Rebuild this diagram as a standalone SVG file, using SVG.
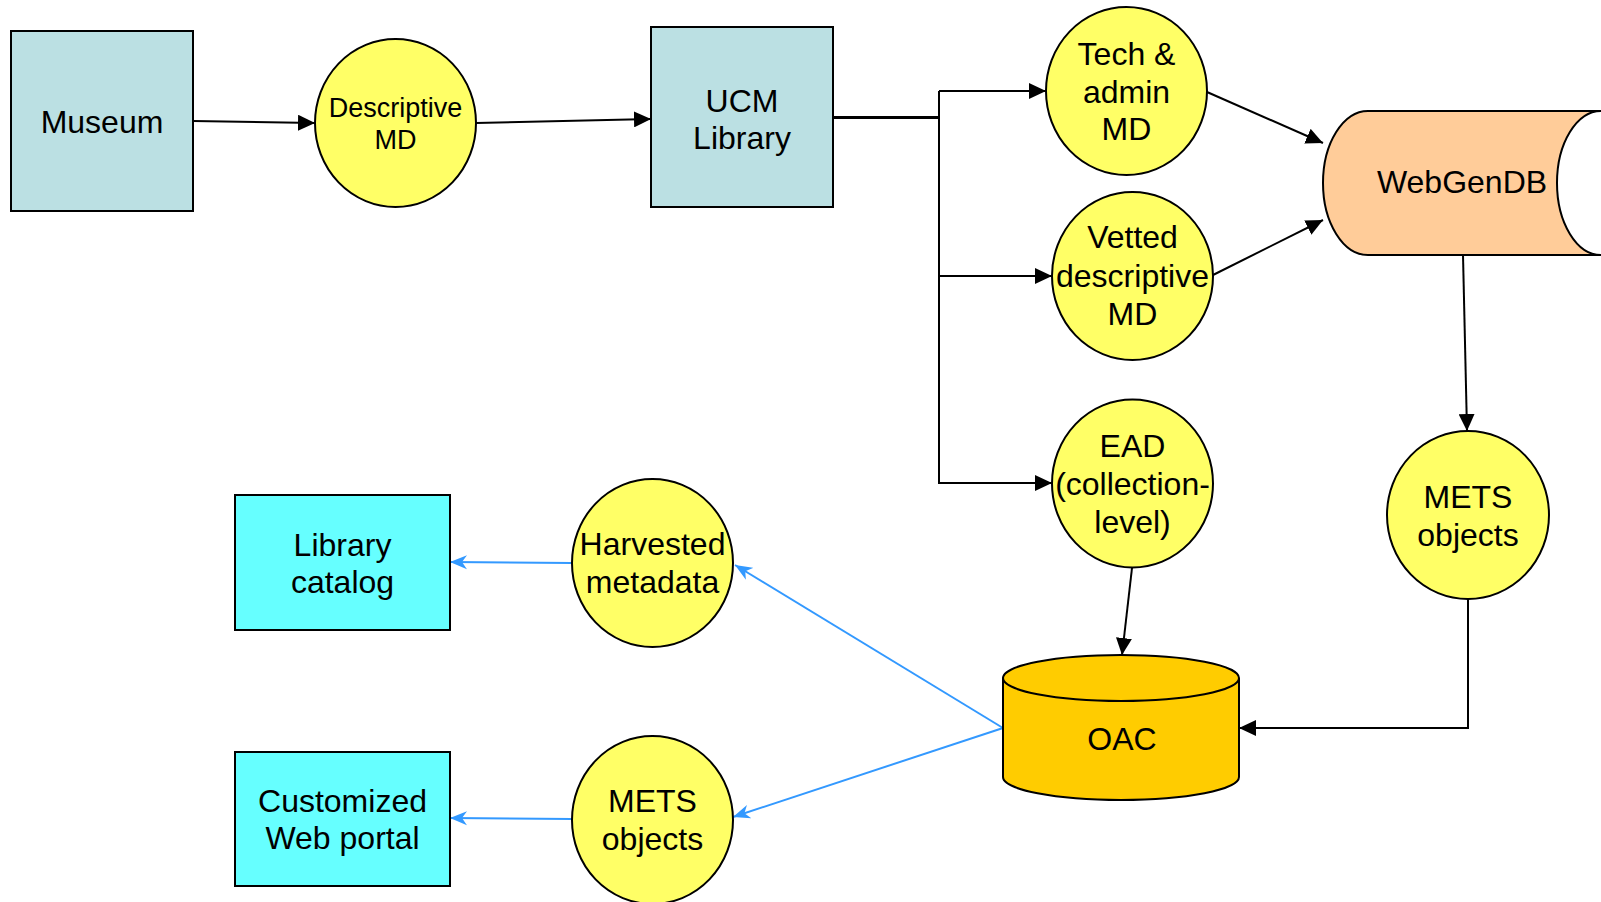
<svg xmlns="http://www.w3.org/2000/svg" width="1601" height="902" viewBox="0 0 1601 902">
<defs>
<style>
.box{fill:#BBE0E3;stroke:#000;stroke-width:2}
.cbox{fill:#66FFFF;stroke:#000;stroke-width:2}
.circ{fill:#FFFF66;stroke:#000;stroke-width:2}
.t{font-family:"Liberation Sans",Arial,sans-serif;font-size:32px;fill:#000;text-anchor:middle}
.ts{font-family:"Liberation Sans",Arial,sans-serif;font-size:27px;fill:#000;text-anchor:middle}
.k{fill:none;stroke:#000;stroke-width:2}
.b{fill:none;stroke:#3399FF;stroke-width:2}
</style>
<marker id="ak" markerUnits="userSpaceOnUse" markerWidth="18" markerHeight="16" refX="17" refY="8" orient="auto">
<path d="M0,0 L17,8 L0,16 z" fill="#000"/>
</marker>
<marker id="ab" markerUnits="userSpaceOnUse" markerWidth="18" markerHeight="16" refX="17" refY="8" orient="auto">
<path d="M0,1 L17,8 L0,15 L5,8 z" fill="#3399FF"/>
</marker>
</defs>
<rect width="1601" height="902" fill="#fff"/>
<g id="connectors">
<line class="k" x1="193" y1="121" x2="315" y2="123" marker-end="url(#ak)"/>
<line class="k" x1="476" y1="123" x2="651" y2="119" marker-end="url(#ak)"/>
<line x1="833" y1="117.5" x2="939" y2="117.5" stroke="#000" stroke-width="3"/>
<polyline class="k" points="939,91 939,483"/>
<line class="k" x1="939" y1="91" x2="1046" y2="91" marker-end="url(#ak)"/>
<line class="k" x1="939" y1="276" x2="1052" y2="276" marker-end="url(#ak)"/>
<line class="k" x1="938" y1="483" x2="1052" y2="483" marker-end="url(#ak)"/>
<line class="k" x1="1207" y1="92" x2="1323" y2="143" marker-end="url(#ak)"/>
<line class="k" x1="1213" y1="275" x2="1323" y2="220" marker-end="url(#ak)"/>
<line class="k" x1="1463" y1="255" x2="1467" y2="431" marker-end="url(#ak)"/>
<line class="k" x1="1132" y1="568" x2="1122" y2="655" marker-end="url(#ak)"/>
<polyline class="k" points="1468,599 1468,728 1239,728" marker-end="url(#ak)"/>
<line class="b" x1="1003" y1="728" x2="735" y2="565" marker-end="url(#ab)"/>
<line class="b" x1="1003" y1="728" x2="733" y2="817" marker-end="url(#ab)"/>
<line class="b" x1="572" y1="563" x2="450" y2="562" marker-end="url(#ab)"/>
<line class="b" x1="572" y1="819" x2="450" y2="818" marker-end="url(#ab)"/>
</g>
<g id="museum">
<rect class="box" x="11" y="31" width="182" height="180"/>
<text class="t" x="102" y="133">Museum</text>
</g>
<g id="descriptive-md">
<ellipse class="circ" cx="395.5" cy="123" rx="80.5" ry="84"/>
<text class="ts" x="395.5" y="117">Descriptive</text>
<text class="ts" x="395.5" y="149">MD</text>
</g>
<g id="ucm-library">
<rect class="box" x="651" y="27" width="182" height="180"/>
<text class="t" x="742" y="112">UCM</text>
<text class="t" x="742" y="149">Library</text>
</g>
<g id="tech-admin-md">
<ellipse class="circ" cx="1126.5" cy="91" rx="80.5" ry="84"/>
<text class="t" x="1126.5" y="65">Tech &amp;</text>
<text class="t" x="1126.5" y="103">admin</text>
<text class="t" x="1126.5" y="140">MD</text>
</g>
<g id="vetted-descriptive-md">
<ellipse class="circ" cx="1132.5" cy="276" rx="80.5" ry="84"/>
<text class="t" x="1132.5" y="248">Vetted</text>
<text class="t" x="1132.5" y="287">descriptive</text>
<text class="t" x="1132.5" y="325">MD</text>
</g>
<g id="ead">
<ellipse class="circ" cx="1132.5" cy="483.5" rx="80.5" ry="84"/>
<text class="t" x="1132.5" y="457">EAD</text>
<text class="t" x="1132.5" y="495">(collection-</text>
<text class="t" x="1132.5" y="533">level)</text>
</g>
<g id="webgendb">
<path d="M1368,111 L1601,111 A44,72 0 0 0 1601,255 L1368,255 A45,72 0 0 1 1368,111 z" fill="#FFCC99" stroke="#000" stroke-width="2"/>
<text class="t" x="1462" y="193">WebGenDB</text>
</g>
<g id="mets-objects-right">
<ellipse class="circ" cx="1468" cy="515" rx="81" ry="84"/>
<text class="t" x="1468" y="508">METS</text>
<text class="t" x="1468" y="546">objects</text>
</g>
<g id="oac">
<path d="M1003,678 L1003,777 A118,23 0 0 0 1239,777 L1239,678" fill="#FFCC00" stroke="#000" stroke-width="2"/>
<ellipse cx="1121" cy="678" rx="118" ry="23" fill="#FFCC00" stroke="#000" stroke-width="2"/>
<text class="t" x="1122" y="750">OAC</text>
</g>
<g id="harvested-metadata">
<ellipse class="circ" cx="652.5" cy="563" rx="80.5" ry="84"/>
<text class="t" x="652.5" y="555">Harvested</text>
<text class="t" x="652.5" y="593">metadata</text>
</g>
<g id="mets-objects-left">
<ellipse class="circ" cx="652.5" cy="820" rx="80.5" ry="84"/>
<text class="t" x="652.5" y="812">METS</text>
<text class="t" x="652.5" y="850">objects</text>
</g>
<g id="library-catalog">
<rect class="cbox" x="235" y="495" width="215" height="135"/>
<text class="t" x="342.5" y="556">Library</text>
<text class="t" x="342.5" y="593">catalog</text>
</g>
<g id="customized-web-portal">
<rect class="cbox" x="235" y="752" width="215" height="134"/>
<text class="t" x="342.5" y="812">Customized</text>
<text class="t" x="342.5" y="849">Web portal</text>
</g>
</svg>
